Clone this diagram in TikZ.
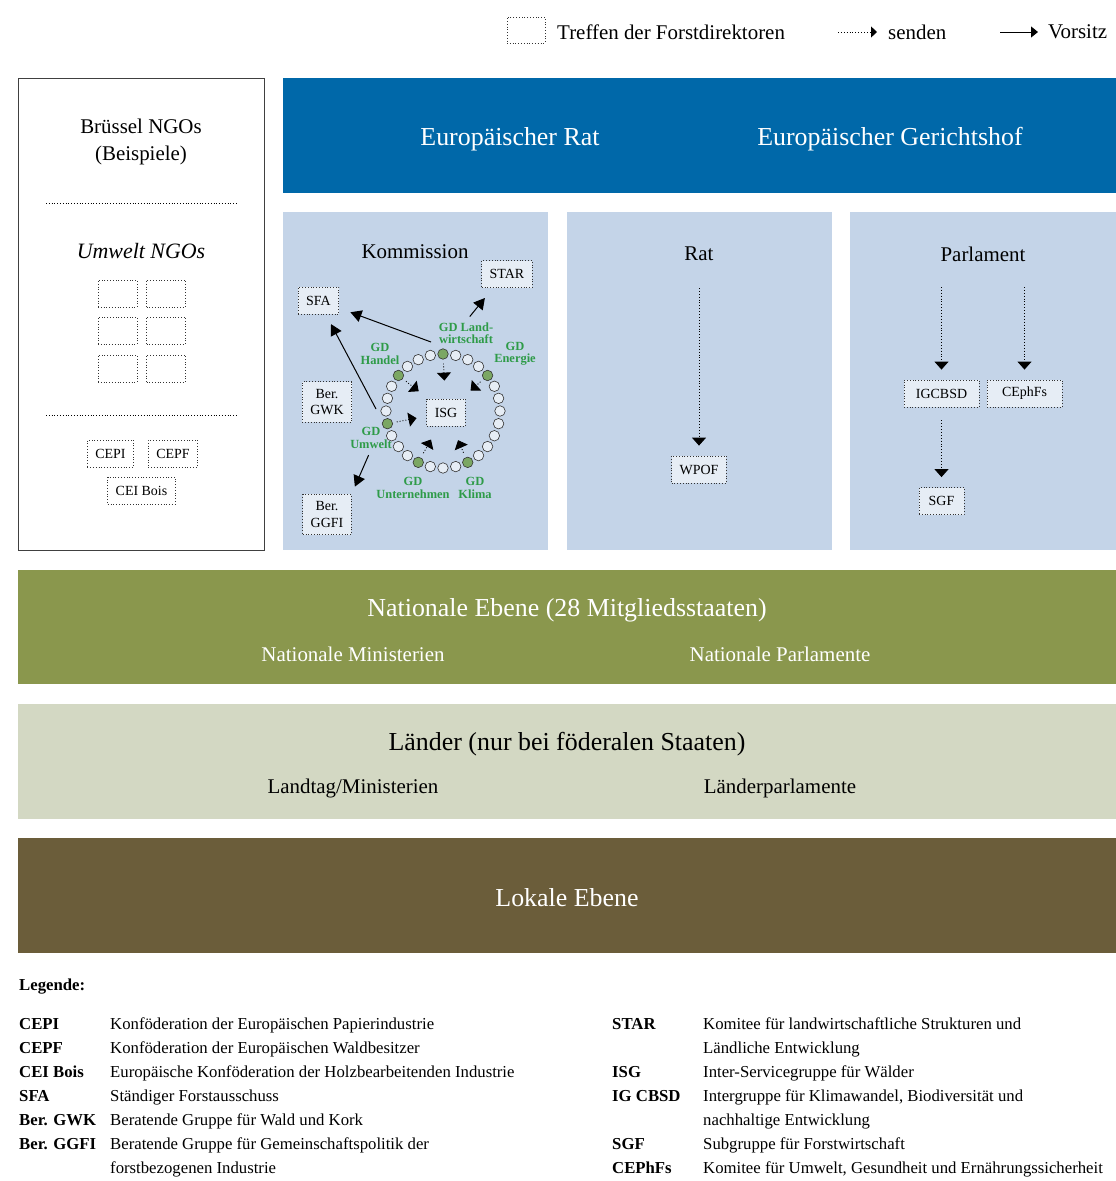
\documentclass[tikz,border=0pt]{standalone}
\usepackage{fontspec}
\setmainfont{Liberation Serif}
\usepackage{tikz}
\usetikzlibrary{arrows.meta,positioning,calc}
\definecolor{EUblue}{HTML}{0068A9}
\definecolor{EUpanel}{HTML}{C4D4E8}
\definecolor{EUolive}{HTML}{8A974D}
\definecolor{EUsage}{HTML}{D3D8C3}
\definecolor{EUbrown}{HTML}{6B5D3A}
\definecolor{EUbox}{HTML}{E6EDF5}
\definecolor{GDgreen}{HTML}{2E9B48}
\definecolor{GDdot}{HTML}{7BA763}
\newcommand{\eufont}[2]{\fontsize{#1}{#2}\selectfont}
\tikzset{
  eu/band/.style={fill=#1, draw=none, anchor=north west, inner sep=0pt},
  eu/title/.style={font=\eufont{26}{30}, inner sep=0pt},
  eu/sub/.style={font=\eufont{21}{25}, inner sep=0pt},
  eu/head/.style={font=\eufont{21}{28}, inner sep=0pt, align=center},
  eu/box/.style={draw=black!80, dotted, line width=0.8bp, fill=EUbox, font=\eufont{14}{17}, inner xsep=8bp, inner ysep=0pt, minimum height=27bp, align=center},
  eu/ngo/.style={eu/box, fill=white, minimum width=39bp},
  eu/dot/.style={circle, draw=black!80, solid, line width=0.6bp, fill=EUbox, minimum size=10.5bp, inner sep=0pt},
  eu/gd/.style={eu/dot, fill=GDdot},
  eu/gdlabel/.style={font=\bfseries\eufont{12.5}{12.5}, text=GDgreen, align=center, inner sep=1bp},
  eu/send/.style={dotted, line width=0.9bp, -{Triangle[length=8bp,width=14bp]}},
  eu/chair/.style={line width=1bp, -{Triangle[length=11bp,width=12bp]}},
  eu/sep/.style={dotted, line width=0.8bp},
  eu/legend/.style={font=\eufont{16.8}{24.2}, anchor=base west, inner sep=0pt}
}

\begin{document}
\begin{tikzpicture}[x=1bp, y=-1bp]
  \useasboundingbox (0,0) rectangle (1116,1181);

  % key
  \node[eu/ngo, minimum width=38bp, minimum height=26bp] (keyBox) at (526,30) {};
  \node[font=\eufont{21}{25}, anchor=west, inner sep=0pt] (keyBoxLbl) at (557,32) {Treffen der Forstdirektoren};
  \coordinate (keySendFrom) at (838,32);
  \coordinate (keySendTo) at (877,32);
  \draw[eu/send, -{Triangle[length=6bp,width=11bp]}] (keySendFrom) -- (keySendTo);
  \node[font=\eufont{21}{25}, anchor=west, inner sep=0pt] (keySendLbl) at (888,32) {senden};
  \coordinate (keyChairFrom) at (1000,32);
  \coordinate (keyChairTo) at (1038,32);
  \draw[eu/chair, -{Triangle[length=7bp,width=11bp]}] (keyChairFrom) -- (keyChairTo);
  \node[font=\eufont{21}{25}, anchor=west, inner sep=0pt] (keyChairLbl) at (1048,32) {Vorsitz};

  % EU level
  \node[eu/band=EUblue, minimum width=833bp, minimum height=115bp] (euBand) at (283,78) {};
  \node[eu/title, text=white] (euRat) at (510,139) {Europäischer Rat};
  \node[eu/title, text=white] (euCourt) at (890,139) {Europäischer Gerichtshof};
  \node[eu/band=EUpanel, minimum width=265bp, minimum height=338bp] (komPanel) at (283,212) {};
  \node[eu/band=EUpanel, minimum width=265bp, minimum height=338bp] (ratPanel) at (567,212) {};
  \node[eu/band=EUpanel, minimum width=266bp, minimum height=338bp] (parlPanel) at (850,212) {};

  % NGOs
  \node[eu/band=white, draw=black!75, line width=1.2bp, minimum width=246bp, minimum height=472bp] (ngoPanel) at (18,78) {};
  \node[eu/head] (ngoTitle) at (141,142) {Brüssel NGOs\\(Beispiele)};
  \coordinate (sepA1) at (46,203);
  \coordinate (sepA2) at (238,203);
  \draw[eu/sep] (sepA1) -- (sepA2);
  \node[eu/head, font=\itshape\eufont{22}{28}] (envTitle) at (141,251) {Umwelt NGOs};
  \foreach \yy [count=\i] in {293.5,330.5,368.5} {
    \node[eu/ngo] (ngoL\i) at (117.5,\yy) {};
    \node[eu/ngo] (ngoR\i) at (166,\yy) {};
  }
  \coordinate (sepB1) at (46,415);
  \coordinate (sepB2) at (238,415);
  \draw[eu/sep] (sepB1) -- (sepB2);
  \node[eu/box, fill=white] (cepi) at (110.5,453.5) {CEPI};
  \node[eu/box, fill=white] (cepf) at (173,453.5) {CEPF};
  \node[eu/box, fill=white] (ceibois) at (141.5,490.5) {CEI Bois};

  % Kommission
  \node[eu/head] (komTitle) at (415,252) {Kommission};
  \node[eu/box] (star) at (507,274) {STAR};
  \node[eu/box] (sfa) at (318.5,300.5) {SFA};
  \node[eu/box, inner ysep=7bp] (gwk) at (327,402) {Ber.\\GWK};
  \node[eu/box, inner ysep=7bp] (ggfi) at (327,514.5) {Ber.\\GGFI};
  \coordinate (ringc) at (443,411);
  \node[eu/box] (isg) at (446,412.5) {ISG};
  \foreach \k in {0,...,27} {
    \pgfmathtruncatemacro\isgd{(mod(\k,4)==0) && (\k!=20)}
    \ifnum\isgd=1 \def\dotstyle{eu/gd}\else\def\dotstyle{eu/dot}\fi
    \node[\dotstyle] (c\k) at ($(ringc)+({-(90+\k*360/28)}:57)$) {};
  }
  \node[eu/gdlabel] (landLbl) at (466,333) {GD Land-\\wirtschaft};
  \node[eu/gdlabel] (handelLbl) at (380,354) {GD\\Handel};
  \node[eu/gdlabel] (energieLbl) at (515,354) {GD\\Energie};
  \node[eu/gdlabel] (umweltLbl) at (371,438) {GD\\Umwelt};
  \node[eu/gdlabel] (unternLbl) at (413,488) {GD\\Unternehmen};
  \node[eu/gdlabel] (klimaLbl) at (475,488) {GD\\Klima};

  \draw[eu/send, shorten <=4bp, shorten >=18bp] (c0) -- (isg);
  \draw[eu/send, shorten <=4bp, shorten >=12bp] (c4) -- (isg);
  \draw[eu/send, shorten <=4bp, shorten >=12bp] (c24) -- (isg);
  \draw[eu/send, shorten <=4bp, shorten >=10bp] (c8) -- (isg);
  \draw[eu/send, shorten <=5bp, shorten >=15bp] (c12) -- (isg);
  \draw[eu/send, shorten <=5bp, shorten >=15bp] (c16) -- (isg);

  \coordinate (landTap) at (431,342);
  \coordinate (umweltTap) at (376,409);
  \draw[eu/chair, shorten <=6bp, shorten >=13bp] (landLbl.north) -- (star.-135);
  \draw[eu/chair, shorten >=12bp] (landTap) -- (sfa);
  \draw[eu/chair, shorten >=11bp] (umweltTap) -- (sfa);
  \draw[eu/chair, shorten <=6bp, shorten >=8bp] (umweltLbl.south) -- (ggfi.north east);

  % Rat
  \node[eu/head] (ratTitle) at (699,254) {Rat};
  \node[eu/box] (wpof) at (699,469.5) {WPOF};
  \coordinate (ratTap) at (699,288);
  \draw[eu/send, shorten >=10bp] (ratTap) -- (wpof);

  % Parlament
  \node[eu/head] (parlTitle) at (983,254) {Parlament};
  \node[eu/box, minimum width=75bp] (igcbsd) at (941.5,393.5) {IGCBSD};
  \node[eu/box, minimum width=75bp] (cephfs) at (1024.5,393.5) {CEphFs};
  \node[eu/box, minimum width=45bp] (sgf) at (941.5,501) {SGF};
  \coordinate (parlTapA) at (941.5,287);
  \coordinate (parlTapB) at (1024.5,287);
  \draw[eu/send, shorten >=10bp] (parlTapA) -- (igcbsd);
  \draw[eu/send, shorten >=10bp] (parlTapB) -- (cephfs);
  \draw[eu/send, shorten <=13bp, shorten >=10bp] (igcbsd) -- (sgf);

  % national, regional, local
  \node[eu/band=EUolive, minimum width=1098bp, minimum height=114bp] (natBand) at (18,570) {};
  \node[eu/title, text=white] (natTitle) at (567,610) {Nationale Ebene (28 Mitgliedsstaaten)};
  \node[eu/sub, text=white] (natMin) at (353,654) {Nationale Ministerien};
  \node[eu/sub, text=white] (natParl) at (780,654) {Nationale Parlamente};
  \node[eu/band=EUsage, minimum width=1098bp, minimum height=115bp] (landBand) at (18,704) {};
  \node[eu/title] (landTitle) at (567,744) {Länder (nur bei föderalen Staaten)};
  \node[eu/sub] (landMin) at (353,788) {Landtag/Ministerien};
  \node[eu/sub] (landParl) at (780,788) {Länderparlamente};
  \node[eu/band=EUbrown, minimum width=1098bp, minimum height=115bp] (localBand) at (18,838) {};
  \node[eu/title, text=white] (localTitle) at (567,898) {Lokale Ebene};

  % legend
  \node[eu/legend, font=\bfseries\eufont{16.8}{24.2}] (legTitle) at (19,990) {Legende:};
  \node[eu/legend] (legLeft) at (19,1029) {\begin{tabular}[t]{@{}p{91bp}@{}l@{}}
    \textbf{CEPI} & Konföderation der Europäischen Papierindustrie\\
    \textbf{CEPF} & Konföderation der Europäischen Waldbesitzer\\
    \textbf{CEI Bois} & Europäische Konföderation der Holzbearbeitenden Industrie\\
    \textbf{SFA} & Ständiger Forstausschuss\\
    \textbf{Ber. GWK} & Beratende Gruppe für Wald und Kork\\
    \textbf{Ber. GGFI} & Beratende Gruppe für Gemeinschaftspolitik der\\
     & forstbezogenen Industrie
  \end{tabular}};
  \node[eu/legend] (legRight) at (612,1029) {\begin{tabular}[t]{@{}p{91bp}@{}l@{}}
    \textbf{STAR} & Komitee für landwirtschaftliche Strukturen und\\
     & Ländliche Entwicklung\\
    \textbf{ISG} & Inter-Servicegruppe für Wälder\\
    \textbf{IG CBSD} & Intergruppe für Klimawandel, Biodiversität und\\
     & nachhaltige Entwicklung\\
    \textbf{SGF} & Subgruppe für Forstwirtschaft\\
    \textbf{CEPhFs} & Komitee für Umwelt, Gesundheit und Ernährungssicherheit
  \end{tabular}};
\end{tikzpicture}
\end{document}
